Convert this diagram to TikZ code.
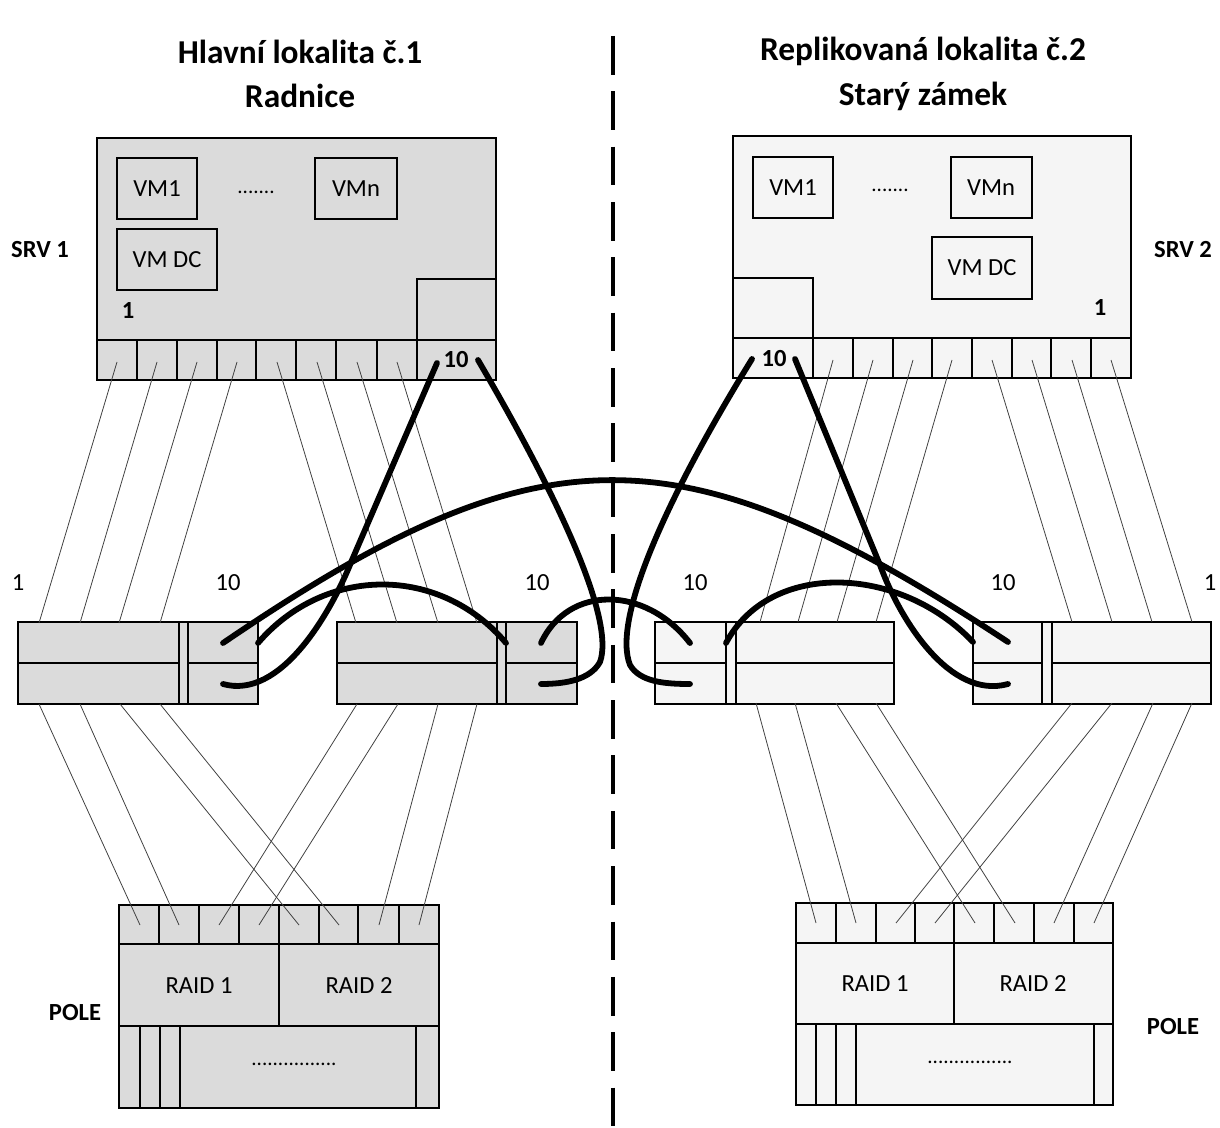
\documentclass[tikz,border=0pt]{standalone}
\usepackage{fontspec}
\setmainfont{Carlito}
\begin{document}
\begin{tikzpicture}[x=0.02cm,y=-0.02cm,
  frame/.style={draw=black, line width=1.1pt},
  fillL/.style={fill=black!14},
  fillR/.style={fill=black!4},
  wire/.style={draw=black!75, line width=0.45pt},
  cable/.style={draw=black, line width=3.3pt, line cap=round},
  title/.style={font=\fontsize{19}{25.5}\selectfont\bfseries, align=center},
  lbl/.style={font=\fontsize{14}{16}\selectfont},
  blbl/.style={font=\fontsize{14}{16}\selectfont\bfseries},
  dots/.style={font=\fontsize{12}{14}\selectfont},
  sitesplit/.style={draw=black, line width=2.2pt, dash pattern=on 22pt off 9.5pt},
]
\useasboundingbox (0,0) rectangle (1220,1128);

% boundary between the two sites
\coordinate (splitTop) at (613,36);
\coordinate (splitBot) at (613,1128);
\draw[sitesplit] (splitTop) -- (splitBot);

% ---------- server SRV 1 ----------
\draw[frame,fillL] (97,138) rectangle (496,380);
\draw[frame] (97,340) -- (496,340);
\foreach \x in {137,177,217,256,296,336,377,417} \draw[frame] (\x,340) -- (\x,380);
\draw[frame] (417,279) rectangle (496,340);
\draw[frame] (117,158) rectangle (197,219);
\draw[frame] (315,158) rectangle (397,219);
\draw[frame] (117,229) rectangle (217,290);

% ---------- server SRV 2 ----------
\draw[frame,fillR] (733,136) rectangle (1131,378);
\draw[frame] (733,338) -- (1131,338);
\foreach \x in {813,853,893,932,972,1012,1051,1091} \draw[frame] (\x,338) -- (\x,378);
\draw[frame] (733,278) rectangle (813,338);
\draw[frame] (753,157) rectangle (833,218);
\draw[frame] (951,157) rectangle (1032,218);
\draw[frame] (932,237) rectangle (1032,299);

% ---------- switches ----------
% #1 left x, #2 first divider, #3 second divider, #4 right x, #5 fill
\newcommand\switchbox[5]{%
  \draw[frame,#5] (#1,622) rectangle (#4,704);
  \draw[frame] (#2,622) -- (#2,704);
  \draw[frame] (#3,622) -- (#3,704);
  \draw[frame] (#1,663) -- (#2,663);
  \draw[frame] (#3,663) -- (#4,663);}
\switchbox{18}{179}{188}{258}{fillL}
\switchbox{337}{497}{506}{577}{fillL}
\switchbox{655}{726}{736}{894}{fillR}
\switchbox{973}{1042}{1052}{1211}{fillR}

% ---------- disk arrays ----------
\draw[frame,fillL] (119,905) rectangle (439,1108);
\draw[frame] (119,944) -- (439,944);
\draw[frame] (119,1026) -- (439,1026);
\draw[frame] (279,944) -- (279,1026);
\foreach \x in {159,199,239,279,319,358,399} \draw[frame] (\x,905) -- (\x,944);
\foreach \x in {140,160,180,416} \draw[frame] (\x,1026) -- (\x,1108);

\draw[frame,fillR] (796,903) rectangle (1113,1105);
\draw[frame] (796,943) -- (1113,943);
\draw[frame] (796,1024) -- (1113,1024);
\draw[frame] (954,943) -- (954,1024);
\foreach \x in {836,876,915,954,994,1034,1074} \draw[frame] (\x,903) -- (\x,943);
\foreach \x in {816,836,856,1094} \draw[frame] (\x,1024) -- (\x,1105);

% ---------- port points ----------
\foreach \x [count=\i] in {117,157,197,237,277,317,357,397} \coordinate (s1p\i) at (\x,362);
\foreach \x [count=\i] in {833,873,913,952,992,1032,1072,1111} \coordinate (s2p\i) at (\x,360);
\foreach \x [count=\i] in {39,80,119,160} \coordinate (l1t\i) at (\x,623);
\foreach \x [count=\i] in {356,397,438,477} \coordinate (l2t\i) at (\x,623);
\foreach \x [count=\i] in {760,798,837,876} \coordinate (r1t\i) at (\x,622);
\foreach \x [count=\i] in {1072,1112,1152,1192} \coordinate (r2t\i) at (\x,622);
\foreach \x [count=\i] in {39,80,120,160} \coordinate (l1b\i) at (\x,704);
\foreach \x [count=\i] in {357,398,438,477} \coordinate (l2b\i) at (\x,704);
\foreach \x [count=\i] in {756,795,836,876} \coordinate (r1b\i) at (\x,703);
\foreach \x [count=\i] in {1072,1112,1153,1192} \coordinate (r2b\i) at (\x,703);
\foreach \x [count=\i] in {140,179,219,259,299,339,379,419} \coordinate (aLp\i) at (\x,925);
\foreach \x [count=\i] in {816,856,896,935,975,1015,1054,1094} \coordinate (aRp\i) at (\x,923);

% ---------- 1G links ----------
\foreach \i in {1,...,4} {
  \draw[wire] (s1p\i) -- (l1t\i);
  \pgfmathtruncatemacro\k{\i+4}
  \draw[wire] (s1p\k) -- (l2t\i);
  \draw[wire] (s2p\i) -- (r1t\i);
  \draw[wire] (s2p\k) -- (r2t\i);
}
\foreach \a/\b in {1/1,2/2,3/5,4/6} {
  \draw[wire] (l1b\a) -- (aLp\b);
  \draw[wire] (r1b\a) -- (aRp\b);
}
\foreach \a/\b in {1/3,2/4,3/7,4/8} {
  \draw[wire] (l2b\a) -- (aLp\b);
  \draw[wire] (r2b\a) -- (aRp\b);
}

% ---------- 10G cable ends ----------
\coordinate (s1x1) at (437,363);
\coordinate (s1x2) at (478,360);
\coordinate (s2x1) at (752,359);
\coordinate (s2x2) at (795,359);
\coordinate (l1up) at (223,643);
\coordinate (l1edge) at (258,643);
\coordinate (l1lo) at (223,684);
\coordinate (l2div) at (506,643);
\coordinate (l2up) at (541,643);
\coordinate (l2lo) at (541,684);
\coordinate (r1up) at (690,643);
\coordinate (r1div) at (726,643);
\coordinate (r1lo) at (690,684);
\coordinate (r2edge) at (973,642);
\coordinate (r2up) at (1008,642);
\coordinate (r2lo) at (1008,684);

% ---------- 10G cables ----------
\draw[cable] (s1x1) -- (352,560) .. controls (330,615) and (280,700) .. (l1lo);
\draw[cable] (s1x2) .. controls (560,500) and (615,620) .. (600,662)
             .. controls (590,680) and (565,684) .. (l2lo);
\draw[cable] (s2x1) .. controls (665,500) and (612,620) .. (630,665)
             .. controls (640,682) and (665,684) .. (r1lo);
\draw[cable] (s2x2) -- (880,565) .. controls (900,620) and (950,700) .. (r2lo);
\draw[cable] (l1up) .. controls (542,426) and (679,426) .. (r2up);
\draw[cable] (l1edge) .. controls (325,565) and (440,565) .. (l2div);
\draw[cable] (r1div) .. controls (770,560) and (900,565) .. (r2edge);
\draw[cable] (l2up) .. controls (568,585) and (645,585) .. (r1up);

% ---------- texts ----------
\node[title] (titleL) at (300,74) {Hlavní lokalita č.1\\Radnice};
\node[title] (titleR) at (923,74) {Replikovaná lokalita č.2\\Starý zámek};

\node[blbl] (srv1) at (40,250) {SRV 1};
\node[blbl] (srv2) at (1183,250) {SRV 2};
\node[lbl] (vm1L) at (157,189) {VM1};
\node[lbl] (vmnL) at (356,189) {VMn};
\node[lbl] (vmdcL) at (167,260) {VM DC};
\node[dots] (dotsL) at (256,192) {.......};
\node[blbl] (oneL) at (128,311) {1};
\node[blbl] (tenL) at (456,360) {10};
\node[lbl] (vm1R) at (793,188) {VM1};
\node[lbl] (vmnR) at (991,188) {VMn};
\node[lbl] (vmdcR) at (982,268) {VM DC};
\node[dots] (dotsR) at (890,190) {.......};
\node[blbl] (oneR) at (1100,308) {1};
\node[blbl] (tenR) at (774,359) {10};

\node[lbl] (swA1) at (18,583) {1};
\node[lbl] (swA10) at (228,583) {10};
\node[lbl] (swB10) at (537,583) {10};
\node[lbl] (swC10) at (695,583) {10};
\node[lbl] (swD10) at (1003,583) {10};
\node[lbl] (swD1) at (1210,583) {1};

\node[lbl] (raid1L) at (199,986) {RAID 1};
\node[lbl] (raid2L) at (359,986) {RAID 2};
\node[dots] (dotsAL) at (294,1064) {................};
\node[blbl] (poleL) at (75,1013) {POLE};
\node[lbl] (raid1R) at (875,984) {RAID 1};
\node[lbl] (raid2R) at (1033,984) {RAID 2};
\node[dots] (dotsAR) at (970,1062) {................};
\node[blbl] (poleR) at (1173,1027) {POLE};
\end{tikzpicture}
\end{document}
